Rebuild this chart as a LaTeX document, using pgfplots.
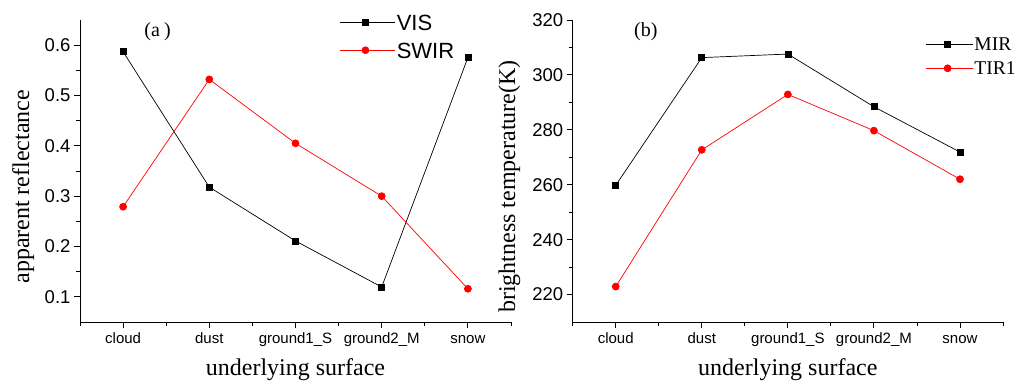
\documentclass[border=0pt]{standalone}
\usepackage{fontspec}
\setmainfont{Liberation Serif}
\newfontfamily\arial{Liberation Sans}
\usepackage{pgfplots}
\pgfplotsset{compat=1.18}
\pgfplotsset{
  myaxis/.style={
    scale only axis, clip=false,
    axis x line*=bottom, axis y line*=left, axis line style={-, line width=0.9pt},
    tick align=outside, major tick length=6pt, minor tick length=4pt,
    every tick/.style={line width=0.9pt, black},
    xmin=-0.5, xmax=4.5,
    xtick={0,1,2,3,4},
    xticklabels={cloud,dust,ground1\_S,ground2\_M,snow},
    minor xtick={-0.5,0.5,1.5,2.5,3.5,4.5},
    /pgf/number format/assume math mode=true,
    xticklabel style={font=\arial\fontsize{15}{15}\selectfont, text height=11pt, text depth=3pt, yshift=-1pt},
    yticklabel style={font=\arial\fontsize{18.5}{18.5}\selectfont},
    label style={font=\fontsize{24}{24}\selectfont},
    xlabel={underlying surface},
    xlabel style={at={(0.5,-0.1755)}, anchor=base},
    minor y tick num=1,
  },
}
\begin{document}
\begin{tikzpicture}
\begin{axis}[myaxis,
  at={(80pt,59pt)}, anchor=south west, width=431pt, height=302pt,
  ymin=0.05, ymax=0.65,
  ytick={0.1,0.2,0.3,0.4,0.5,0.6},
  yticklabels={0.1,0.2,0.3,0.4,0.5,0.6},
  ylabel={apparent reflectance},
  ylabel style={at={(-0.118,0.448)}, anchor=base},
  legend style={draw=none, fill=none, at={(0.603,1.023)}, anchor=north west,
    font=\arial\fontsize{22}{22}\selectfont, row sep=10pt, inner sep=0pt,
    nodes={inner sep=1pt, text height=16pt, text depth=0pt}},
  legend cell align=left,
  legend image code/.code={\path (0pt,0pt) -- (55pt,0pt);\draw[mark repeat=2,mark phase=2,#1] plot coordinates {(0pt,0pt) (25pt,0pt) (50pt,0pt)};},
]
\addplot[black, line width=0.7pt, mark=square*, mark size=3pt, mark options={solid}] coordinates {
 (0,0.587) (1,0.318) (2,0.211) (3,0.1195) (4,0.5755)};
\addlegendentry{VIS}
\addplot[red, line width=0.7pt, mark=*, mark size=3.5pt] coordinates {
 (0,0.279) (1,0.532) (2,0.405) (3,0.300) (4,0.116)};
\addlegendentry{SWIR}
\node[font=\fontsize{20}{20}\selectfont] at (rel axis cs:0.18,0.96) {(a\hspace{4pt})};
\end{axis}
\begin{axis}[myaxis,
  at={(572.7pt,59pt)}, anchor=south west, width=430.3pt, height=302pt,
  ymin=210, ymax=320,
  ytick={220,240,260,280,300,320},
  ylabel={brightness temperature(K)},
  ylabel style={at={(-0.134,0.449)}, anchor=base},
  legend style={draw=none, fill=none, at={(0.82,0.945)}, anchor=north west,
    font=\fontsize{19.5}{19.5}\selectfont, row sep=9pt, inner sep=0pt,
    nodes={inner sep=1pt, text height=13pt, text depth=0pt}},
  legend cell align=left,
  legend image code/.code={\path (0pt,0pt) -- (47pt,0pt);\draw[mark repeat=2,mark phase=2,#1] plot coordinates {(0pt,0pt) (21.5pt,0pt) (43pt,0pt)};},
]
\addplot[black, line width=0.7pt, mark=square*, mark size=3pt] coordinates {
 (0,259.8) (1,306.3) (2,307.6) (3,288.4) (4,271.9)};
\addlegendentry{MIR}
\addplot[red, line width=0.7pt, mark=*, mark size=3.5pt] coordinates {
 (0,222.9) (1,272.7) (2,292.9) (3,279.7) (4,262.0)};
\addlegendentry{TIR1}
\node[font=\fontsize{20}{20}\selectfont] at (rel axis cs:0.17,0.96) {(b)};
\end{axis}
\pgfresetboundingbox
\path[use as bounding box] (0pt,0pt) rectangle (1019pt,381pt);
\end{tikzpicture}
\end{document}
